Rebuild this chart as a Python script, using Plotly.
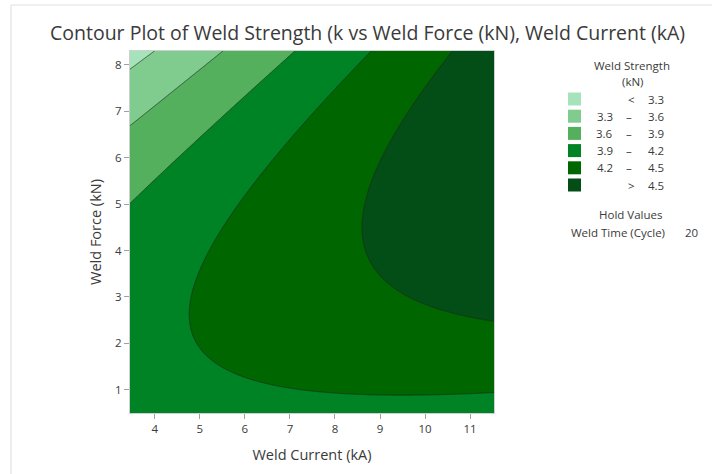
import numpy as np
import plotly.graph_objects as go

# Fitted response surface (Weld Time held at 20 cycles):
# strength = b0 + b1*I + b2*F + b11*I^2 + b22*F^2 + b12*I*F
coef_names = ["b0", "b1", "b2", "b11", "b22", "b12"]
coef_vals = [3.92199, 0.03991, 0.01387, -0.00316, -0.02316, 0.02261]

current_range = [3.45, 11.53]   # Weld Current (kA)
force_range = [0.5, 8.3]        # Weld Force (kN)
x_ticks = [4, 5, 6, 7, 8, 9, 10, 11]
y_ticks = [1, 2, 3, 4, 5, 6, 7, 8]

levels = [3.3, 3.6, 3.9, 4.2, 4.5]
band_colors = ["#a6e3bb", "#7fcc8e", "#55b05d", "#008325", "#006600", "#034d16"]
hold_name = "Weld Time (Cycle)"
hold_value = 20

b0, b1, b2, b11, b22, b12 = coef_vals
xs = np.linspace(current_range[0], current_range[1], 240)
ys = np.linspace(force_range[0], force_range[1], 240)
X, Y = np.meshgrid(xs, ys)
Z = b0 + b1 * X + b2 * Y + b11 * X**2 + b22 * Y**2 + b12 * X * Y

# stepped colorscale: one flat colour per band
n = len(band_colors)
cscale = []
for i, c in enumerate(band_colors):
    cscale.append([i / n, c])
    cscale.append([(i + 1) / n, c])

step = round(levels[1] - levels[0], 6)
fig = go.Figure(go.Contour(
    x=xs, y=ys, z=Z, autocontour=False,
    contours=dict(start=levels[0], end=levels[-1], size=step, coloring="fill"),
    colorscale=cscale, showscale=False,
    line=dict(color="#1e2a1e", width=0.7, smoothing=0),
    hoverinfo="skip",
))

W, H = 712, 474
L, R, T, B = 130, 494, 51, 413


def px(xp):
    return (xp - L) / (R - L)


def py(yp):
    return (B - yp) / (B - T)


FONT = "Open Sans, Noto Sans, sans-serif"
TXT = "#3a3a3a"
LEG = dict(family=FONT, size=11.5, color=TXT)
ann = []
shapes = []


def label(text, x, y, anchor="center"):
    ann.append(dict(text=text, x=px(x), y=py(y), xref="paper", yref="paper", showarrow=False,
                    xanchor=anchor, yanchor="middle", font=LEG))


ann.append(dict(text="Contour Plot of Weld Strength (k vs Weld Force (kN), Weld Current (kA)",
                x=px(367), y=py(32), xref="paper", yref="paper", showarrow=False,
                xanchor="center", yanchor="middle", font=dict(family=FONT, size=19.5, color=TXT)))

# legend header
label("Weld Strength", 632, 65.5)
label("(kN)", 632, 82)

row0, drow = 99, 17.2
for i, c in enumerate(band_colors):
    yc = row0 + i * drow
    shapes.append(dict(type="rect", xref="paper", yref="paper",
                       x0=px(568), x1=px(581), y0=py(yc - 6.5), y1=py(yc + 6.5),
                       fillcolor=c, line=dict(width=0)))
    if i == 0:
        label("<", 631, yc)
        label(f"{levels[0]:.1f}", 646, yc, "left")
    elif i == n - 1:
        label(">", 631, yc)
        label(f"{levels[-1]:.1f}", 646, yc, "left")
    else:
        label(f"{levels[i - 1]:.1f}", 615, yc, "right")
        label("–", 629, yc)
        label(f"{levels[i]:.1f}", 646, yc, "left")

label("Hold Values", 630, 215)
label(hold_name, 667, 233, "right")
label(str(hold_value), 683, 233, "left")

# page frame (top and left rules)
shapes.append(dict(type="line", xref="paper", yref="paper", x0=px(11), x1=px(712), y0=py(5), y1=py(5),
                   line=dict(color="#e2e2e2", width=1.2)))
shapes.append(dict(type="line", xref="paper", yref="paper", x0=px(11), x1=px(11), y0=py(5), y1=py(474),
                   line=dict(color="#e2e2e2", width=1.2)))

axis_common = dict(showgrid=False, zeroline=False, ticks="outside", ticklen=5, tickwidth=1,
                   tickcolor="#a0a0a0", showline=True, mirror=True, linecolor="#cfcfcf", linewidth=1,
                   tickfont=dict(family=FONT, size=11.5, color=TXT))

fig.update_layout(
    width=W, height=H, margin=dict(l=L, r=W - R, t=T, b=H - B),
    paper_bgcolor="white", plot_bgcolor="white",
    xaxis=dict(range=current_range, tickvals=x_ticks, **axis_common,
               title=dict(text="Weld Current (kA)", standoff=15,
                          font=dict(family=FONT, size=14.5, color=TXT))),
    yaxis=dict(range=force_range, tickvals=y_ticks, **axis_common,
               title=dict(text="Weld Force (kN)", standoff=10,
                          font=dict(family=FONT, size=14.5, color=TXT))),
    annotations=ann, shapes=shapes, showlegend=False,
)
fig.write_html("out.html")
